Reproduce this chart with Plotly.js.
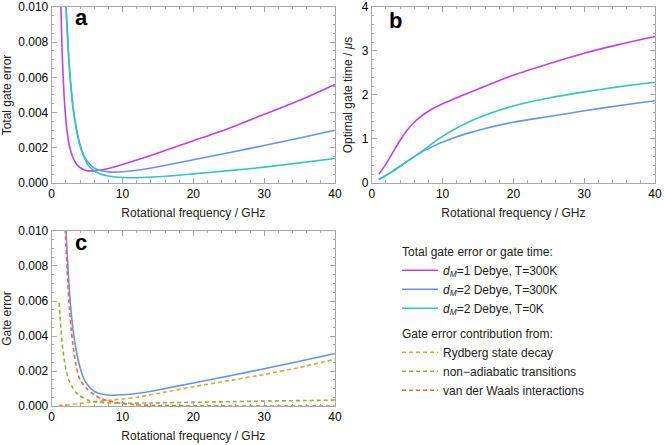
<!DOCTYPE html>
<html>
<head>
<meta charset="utf-8">
<script src="https://cdn.plot.ly/plotly-3.0.1.min.js"></script>
<style>
  html, body { margin: 0; padding: 0; background: #fff; }
  #chart { width: 665px; height: 445px; }
</style>
</head>
<body>
<div id="chart"></div>
<script>
// ---- panel a: total gate error ----
var freqD1 = [1.2, 1.3, 1.4, 1.5, 1.75, 2, 2.25, 2.5, 3, 3.5, 4, 4.5, 5, 6, 7, 8, 10, 12, 15, 20, 25, 30, 35, 40];
var errD1T300 = [0.0125, 0.0102, 0.0085, 0.0072, 0.0050, 0.0036, 0.0027, 0.0021, 0.00145, 0.00108, 0.00088, 0.00076, 0.0007, 0.00069, 0.00074, 0.00082, 0.00105, 0.0013, 0.0017, 0.0024, 0.0031, 0.0039, 0.0047, 0.0056];

var freqD2 = [1.9, 2, 2.25, 2.5, 3, 3.5, 4, 4.5, 5, 6, 7, 8, 9, 10, 12, 15, 20, 25, 30, 35, 40];
var errD2T300 = [0.0118, 0.0102, 0.0083, 0.0066, 0.0044, 0.0031, 0.0022, 0.0016, 0.00125, 0.00084, 0.00069, 0.00063, 0.00062, 0.00064, 0.00072, 0.00092, 0.00132, 0.00172, 0.00213, 0.00256, 0.0030];
var errD2T0 = [0.0118, 0.0102, 0.0082, 0.0065, 0.0043, 0.0030, 0.0021, 0.00155, 0.0011, 0.00068, 0.0005, 0.0004, 0.00034, 0.00031, 0.0003, 0.00035, 0.00052, 0.0007, 0.0009, 0.00114, 0.00139];

// ---- panel b: optimal gate time (us) ----
var freqB = [1, 2, 3, 4, 5, 6, 7, 8, 9, 10, 11, 12, 14, 16, 20, 25, 30, 35, 40];
var timeD1T300 = [0.2, 0.43, 0.7, 0.97, 1.2, 1.38, 1.52, 1.63, 1.72, 1.8, 1.87, 1.935, 2.07, 2.2, 2.45, 2.71, 2.95, 3.15, 3.33];
var timeD2T300 = [0.08, 0.17, 0.27, 0.38, 0.49, 0.6, 0.7, 0.78, 0.86, 0.93, 0.99, 1.05, 1.15, 1.24, 1.38, 1.51, 1.64, 1.76, 1.87];
var timeD2T0 = [0.08, 0.17, 0.27, 0.38, 0.49, 0.6, 0.71, 0.83, 0.95, 1.06, 1.16, 1.25, 1.41, 1.54, 1.75, 1.93, 2.07, 2.19, 2.29];

// ---- panel c: error contributions (d_M = 2 Debye, T = 300K) ----
var freqDecay = [1, 2, 3, 4, 5, 6, 8, 10, 12, 15, 20, 25, 30, 35, 40];
var errDecay = [0.00002, 0.00005, 0.0001, 0.00015, 0.0002, 0.00025, 0.00033, 0.0004, 0.0005, 0.00072, 0.0011, 0.00145, 0.0018, 0.0022, 0.00267];

var freqAdiab = [1.05, 1.25, 1.5, 1.75, 2, 2.5, 3, 3.5, 4, 5, 6, 8, 10, 15, 20, 25, 30, 35, 40];
var errAdiab = [0.0059, 0.0047, 0.0035, 0.0027, 0.0021, 0.0014, 0.00103, 0.00075, 0.00058, 0.00036, 0.00025, 0.00018, 0.00016, 0.00018, 0.00021, 0.00025, 0.00028, 0.00031, 0.00034];

var freqVdw = [1.85, 2, 2.25, 2.5, 2.75, 3, 3.5, 4, 5, 6, 7, 8, 10, 12, 15, 20, 25, 30, 40];
var errVdw = [0.0105, 0.0093, 0.0072, 0.0056, 0.0044, 0.0035, 0.0022, 0.0015, 0.00098, 0.00065, 0.00042, 0.00029, 0.00014, 0.00007, 0.00003, 0.00001, 0.000005, 0.000003, 0.000001];

var seriesNames = [
  '<i>d</i><sub><i>M</i></sub>=1 Debye, T=300K',
  '<i>d</i><sub><i>M</i></sub>=2 Debye, T=300K',
  '<i>d</i><sub><i>M</i></sub>=2 Debye, T=0K'
];
var contribNames = ['Rydberg state decay', 'non\u2212adiabatic transitions', 'van der Waals interactions'];

var magenta = '#c040f0', blue = '#6394f0', cyan = '#33c4c4';
var orange = '#e8a030', green = '#8cb43c', red = '#f0683c';
var font = 'Liberation Sans, Arial, sans-serif';

function solid(x, y, color, name, xa, ya, show) {
  return {
    x: x, y: y, type: 'scatter', mode: 'lines', name: name,
    xaxis: xa, yaxis: ya, showlegend: show,
    legendgroup: 'total', legendgrouptitle: {text: 'Total gate error or gate time:'},
    line: {color: color, width: 1.6, shape: 'spline', smoothing: 0.6}
  };
}
function dashed(x, y, color, name) {
  return {
    x: x, y: y, type: 'scatter', mode: 'lines', name: name,
    xaxis: 'x3', yaxis: 'y3',
    legendgroup: 'contrib', legendgrouptitle: {text: 'Gate error contribution from:'},
    line: {color: color, width: 1.6, dash: '4px,3px', shape: 'spline', smoothing: 0.6}
  };
}

var data = [
  solid(freqD1, errD1T300, magenta, seriesNames[0], 'x', 'y', true),
  solid(freqD2, errD2T300, blue, seriesNames[1], 'x', 'y', true),
  solid(freqD2, errD2T0, cyan, seriesNames[2], 'x', 'y', true),
  solid(freqB, timeD1T300, magenta, seriesNames[0], 'x2', 'y2', false),
  solid(freqB, timeD2T300, blue, seriesNames[1], 'x2', 'y2', false),
  solid(freqB, timeD2T0, cyan, seriesNames[2], 'x2', 'y2', false),
  solid(freqD2, errD2T300, blue, seriesNames[1], 'x3', 'y3', false),
  dashed(freqDecay, errDecay, orange, contribNames[0]),
  dashed(freqAdiab, errAdiab, green, contribNames[1]),
  dashed(freqVdw, errVdw, red, contribNames[2])
];

function xAxis(domain, anchor) {
  return {
    domain: domain, anchor: anchor, range: [0, 40], dtick: 10,
    showgrid: false, zeroline: false, showline: true, linecolor: '#a8a8a8', linewidth: 1,
    mirror: 'allticks', ticks: 'inside', ticklen: 5, tickcolor: '#a8a8a8',
    minor: {ticks: 'inside', ticklen: 2.5, dtick: 2, tickcolor: '#a8a8a8'},
    tickfont: {family: font, size: 12, color: '#000'},
    title: {text: 'Rotational frequency / GHz', font: {family: font, size: 12, color: '#222'}, standoff: 8}
  };
}
function yAxis(domain, anchor, range, dtick, minor, fmt, title) {
  return {
    domain: domain, anchor: anchor, range: range, dtick: dtick, tickformat: fmt,
    showgrid: false, zeroline: false, showline: true, linecolor: '#a8a8a8', linewidth: 1,
    mirror: 'allticks', ticks: 'inside', ticklen: 5, tickcolor: '#a8a8a8',
    minor: {ticks: 'inside', ticklen: 2.5, dtick: minor, tickcolor: '#a8a8a8'},
    tickfont: {family: font, size: 12, color: '#000'},
    title: {text: title, font: {family: font, size: 12, color: '#222'}, standoff: 6}
  };
}

var layout = {
  width: 665, height: 445,
  margin: {l: 0, r: 0, t: 0, b: 0},
  paper_bgcolor: '#fff', plot_bgcolor: '#fff',
  font: {family: font, size: 12, color: '#222'},
  xaxis: xAxis([0.0777, 0.5038], 'y'),
  yaxis: yAxis([0.5888, 0.9843], 'x', [0, 0.010], 0.002, 0.0005, '.3f', 'Total gate error'),
  xaxis2: xAxis([0.559, 0.985], 'y2'),
  yaxis2: yAxis([0.5888, 0.9843], 'x2', [0, 4], 1, 0.2, '', 'Optimal gate time / <i>\u03bc</i>s'),
  xaxis3: xAxis([0.0777, 0.5038], 'y3'),
  yaxis3: yAxis([0.0876, 0.4809], 'x3', [0, 0.010], 0.002, 0.0005, '.3f', 'Gate error'),
  showlegend: true,
  legend: {
    x: 0.597, y: 0.468, xanchor: 'left', yanchor: 'top',
    traceorder: 'grouped', tracegroupgap: 6, itemwidth: 36,
    font: {family: font, size: 12, color: '#222'},
    grouptitlefont: {family: font, size: 12, color: '#222'},
    bgcolor: 'rgba(0,0,0,0)'
  },
  annotations: [
    {xref: 'x domain', yref: 'y domain', x: 0.075, y: 0.94, xanchor: 'left', yanchor: 'middle',
     text: '<b>a</b>', showarrow: false, font: {family: font, size: 22, color: '#000'}},
    {xref: 'x2 domain', yref: 'y2 domain', x: 0.054, y: 0.925, xanchor: 'left', yanchor: 'middle',
     text: '<b>b</b>', showarrow: false, font: {family: font, size: 22, color: '#000'}},
    {xref: 'x3 domain', yref: 'y3 domain', x: 0.075, y: 0.935, xanchor: 'left', yanchor: 'middle',
     text: '<b>c</b>', showarrow: false, font: {family: font, size: 22, color: '#000'}}
  ]
};

Plotly.newPlot(document.getElementById('chart'), data, layout, {staticPlot: true, displayModeBar: false});
</script>
</body>
</html>
